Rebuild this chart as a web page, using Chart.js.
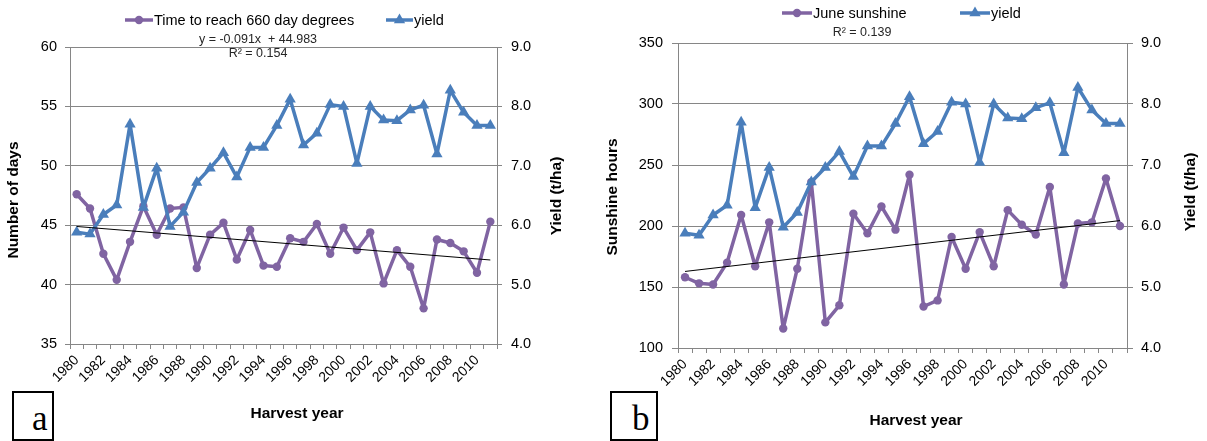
<!DOCTYPE html>
<html>
<head>
<meta charset="utf-8">
<script src="https://cdn.jsdelivr.net/npm/chart.js@4.4.1/dist/chart.umd.min.js"></script>
<style>
  html, body { margin: 0; padding: 0; background: #fff; }
  #page { position: relative; width: 1207px; height: 441px; overflow: hidden; background: #fff; }
  #page canvas { position: absolute; top: 0; }
  .tag { position: absolute; box-sizing: border-box; border: 2px solid #000; background: #fff; }
  .tag span { position: absolute; font-family: "Liberation Serif", "DejaVu Serif", serif; font-size: 35px; line-height: 1; color: #000; }
</style>
</head>
<body>
<div id="page">
  <canvas id="chartA" width="600" height="441" style="left:0px"></canvas>
  <canvas id="chartB" width="607" height="441" style="left:600px"></canvas>
  <div class="tag" style="left:12px; top:391px; width:42px; height:50px;"><span style="left:18px; top:8px;">a</span></div>
  <div class="tag" style="left:610px; top:391px; width:48px; height:50px;"><span style="left:20px; top:8px;">b</span></div>
</div>
<script>
// Harvest years (categories)
const years = [1980, 1981, 1982, 1983, 1984, 1985, 1986, 1987, 1988, 1989,
               1990, 1991, 1992, 1993, 1994, 1995, 1996, 1997, 1998, 1999,
               2000, 2001, 2002, 2003, 2004, 2005, 2006, 2007, 2008, 2009,
               2010, 2011];

// Days needed to accumulate 660 day degrees
const daysTo660 = [47.6, 46.4, 42.6, 40.4, 43.6, 46.6, 44.2, 46.4, 46.5, 41.4,
                   44.2, 45.2, 42.1, 44.6, 41.6, 41.5, 43.9, 43.6, 45.1, 42.6,
                   44.8, 42.9, 44.4, 40.1, 42.9, 41.5, 38.0, 43.8, 43.5, 42.8,
                   41.0, 45.3];

// June sunshine (hours)
const juneSunshine = [158, 153, 152, 170, 209, 167, 203, 116, 165, 236,
                      121, 135, 210, 194, 216, 197, 242, 134, 139, 191,
                      165, 195, 167, 213, 201, 193, 232, 152, 202, 203,
                      239, 200];

// Grain yield (t/ha)
const yieldTHa = [5.88, 5.85, 6.18, 6.34, 7.70, 6.30, 6.96, 5.98, 6.22, 6.72,
                  6.96, 7.22, 6.81, 7.31, 7.31, 7.68, 8.12, 7.35, 7.55, 8.03,
                  8.00, 7.04, 8.00, 7.77, 7.76, 7.94, 8.02, 7.20, 8.27, 7.90,
                  7.68, 7.68];

// Linear trend coefficients [slope, intercept], x = 1..n
const daysTrend = [-0.091, 44.983];
const sunTrend = [1.345, 161.4];

// Axis ranges [min, max, step]
const daysAxis = [35, 60, 5];
const sunAxis = [100, 350, 50];
const yieldAxis = [4, 9, 1];

// Annotation texts
const daysEquation = 'y = -0.091x  + 44.983';
const daysR2 = 'R\u00b2 = 0.154';
const sunR2 = 'R\u00b2 = 0.139';

const FONT = '"Liberation Sans", Arial, sans-serif';
const PURPLE = '#8064A2';
const BLUE = '#4A7EBB';
const AXIS_GRAY = '#868686';

function trendEnds(coef, n) {
  const d = new Array(n).fill(null);
  d[0] = coef[0] * 1 + coef[1];
  d[n - 1] = coef[0] * n + coef[1];
  return d;
}

// Legend, annotations and axis titles drawn on top of the chart
const overlayText = {
  id: 'overlayText',
  afterDraw(chart, args, opts) {
    const ctx = chart.ctx;
    ctx.save();
    (opts.legend || []).forEach(item => {
      const ds = chart.data.datasets[item.ds];
      ctx.strokeStyle = ds.borderColor;
      ctx.lineWidth = ds.borderWidth;
      ctx.lineCap = 'butt';
      ctx.beginPath();
      ctx.moveTo(item.x1, item.y);
      ctx.lineTo(item.x2, item.y);
      ctx.stroke();
      ctx.fillStyle = ds.backgroundColor;
      Chart.helpers.drawPoint(ctx, {
        pointStyle: ds.pointStyle, radius: ds.pointRadius, rotation: 0, borderWidth: 0
      }, (item.x1 + item.x2) / 2, item.y);
      ctx.fillStyle = '#000';
      ctx.font = '14.5px ' + FONT;
      ctx.textAlign = 'left';
      ctx.textBaseline = 'middle';
      ctx.fillText(ds.label, item.x2 + 1, item.y + 1);
    });
    (opts.notes || []).forEach(n => {
      ctx.fillStyle = '#262626';
      ctx.font = '12.5px ' + FONT;
      ctx.textAlign = 'center';
      ctx.textBaseline = 'middle';
      ctx.fillText(n.text, n.x, n.y);
    });
    (opts.titles || []).forEach(t => {
      ctx.save();
      ctx.translate(t.x, t.y);
      ctx.rotate((t.rot || 0) * Math.PI / 180);
      ctx.fillStyle = '#000';
      ctx.font = 'bold 15.5px ' + FONT;
      ctx.textAlign = 'center';
      ctx.textBaseline = 'middle';
      ctx.fillText(t.text, 0, 0);
      ctx.restore();
    });
    ctx.restore();
  }
};

function xScale(height) {
  return {
    type: 'category',
    offset: true,
    grid: { display: true, drawOnChartArea: false, offset: true, tickLength: 5, color: AXIS_GRAY },
    border: { display: true, color: AXIS_GRAY },
    ticks: {
      autoSkip: false, minRotation: 45, maxRotation: 45, padding: 3,
      color: '#000', font: { family: FONT, size: 14 },
      callback: function (v, i) { return i % 2 === 0 ? this.getLabelForValue(v) : ''; }
    },
    afterFit: s => { s.height = height; }
  };
}

function leftScale(range, width, tl, pad) {
  return {
    position: 'left', min: range[0], max: range[1],
    ticks: { stepSize: range[2], padding: pad, color: '#000', font: { family: FONT, size: 14.5 } },
    grid: { color: AXIS_GRAY, tickLength: tl },
    border: { color: AXIS_GRAY },
    afterFit: s => { s.width = width; }
  };
}

function rightScale(range, width, tl, pad) {
  return {
    position: 'right', min: range[0], max: range[1],
    ticks: { stepSize: range[2], padding: pad, color: '#000', font: { family: FONT, size: 14.5 },
             callback: v => Number(v).toFixed(1) },
    grid: { drawOnChartArea: false, color: AXIS_GRAY, tickLength: tl },
    border: { color: AXIS_GRAY },
    afterFit: s => { s.width = width; }
  };
}

function seriesSet(label, values, trendCoef) {
  return [
    { label: label, data: values, yAxisID: 'y', borderColor: PURPLE, backgroundColor: PURPLE,
      borderWidth: 3.5, borderJoinStyle: 'round', borderCapStyle: 'round',
      pointStyle: 'circle', pointRadius: 4.2, pointBorderWidth: 0, order: 2 },
    { label: 'yield', data: yieldTHa, yAxisID: 'y1', borderColor: BLUE, backgroundColor: BLUE,
      borderWidth: 3.5, borderJoinStyle: 'round', borderCapStyle: 'round',
      pointStyle: 'triangle', pointRadius: 6.5, pointBorderWidth: 0, order: 1 },
    { label: 'trend', data: trendEnds(trendCoef, values.length), yAxisID: 'y', borderColor: '#000',
      backgroundColor: '#000', borderWidth: 1, pointRadius: 0, spanGaps: true, order: 0 }
  ];
}

function baseOptions(top, scales, overlay) {
  return {
    responsive: false, animation: false, devicePixelRatio: 1,
    layout: { padding: { top: top, left: 0, right: 0, bottom: 0 } },
    elements: { line: { tension: 0 } },
    scales: scales,
    plugins: { legend: { display: false }, tooltip: { enabled: false }, overlayText: overlay }
  };
}

new Chart(document.getElementById('chartA'), {
  type: 'line',
  data: { labels: years, datasets: seriesSet('Time to reach 660 day degrees', daysTo660, daysTrend) },
  options: baseOptions(47, {
    x: xScale(97),
    y: leftScale(daysAxis, 70, 5, 8),
    y1: rightScale(yieldAxis, 103, 5, 9)
  }, {
    legend: [{ ds: 0, x1: 125, x2: 153, y: 20 }, { ds: 1, x1: 386, x2: 413, y: 20 }],
    notes: [{ text: daysEquation, x: 258, y: 40 }, { text: daysR2, x: 258, y: 54 }],
    titles: [
      { text: 'Number of days', x: 14, y: 200, rot: -90 },
      { text: 'Yield (t/ha)', x: 557, y: 196, rot: -90 },
      { text: 'Harvest year', x: 297, y: 414, rot: 0 }
    ]
  }),
  plugins: [overlayText]
});

new Chart(document.getElementById('chartB'), {
  type: 'line',
  data: { labels: years, datasets: seriesSet('June sunshine', juneSunshine, sunTrend) },
  options: baseOptions(43, {
    x: xScale(93),
    y: leftScale(sunAxis, 78, 6, 9),
    y1: rightScale(yieldAxis, 80, 6, 8)
  }, {
    legend: [{ ds: 0, x1: 182, x2: 212, y: 13 }, { ds: 1, x1: 360, x2: 390, y: 13 }],
    notes: [{ text: sunR2, x: 262, y: 33 }],
    titles: [
      { text: 'Sunshine hours', x: 13, y: 197, rot: -90 },
      { text: 'Yield (t/ha)', x: 591, y: 192, rot: -90 },
      { text: 'Harvest year', x: 316, y: 421, rot: 0 }
    ]
  }),
  plugins: [overlayText]
});
</script>
</body>
</html>
